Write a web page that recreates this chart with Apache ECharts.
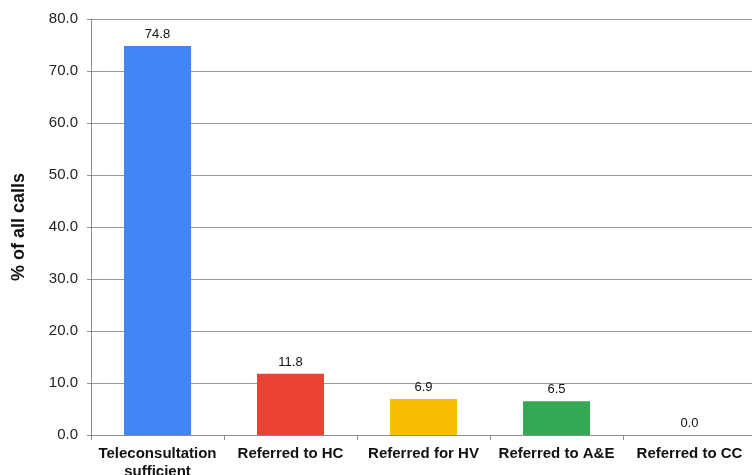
<!DOCTYPE html>
<html>
<head>
<meta charset="utf-8">
<script src="https://cdn.jsdelivr.net/npm/echarts@6/dist/echarts.min.js"></script>
<style>
  html, body { margin: 0; padding: 0; background: #fff; }
  #chart { width: 752px; height: 475px; }
</style>
</head>
<body>
<div id="chart"></div>
<script>
// Call outcomes and their share of all calls (%)
const categories = ['Teleconsultation\nsufficient', 'Referred to HC', 'Referred for HV', 'Referred to A&E', 'Referred to CC'];
const shares = [74.8, 11.8, 6.9, 6.5, 0.0];
const barColors = ['#4285F4', '#EA4335', '#FBBC04', '#34A853', '#8E8E8E'];
const yTicks = { min: 0, max: 80, interval: 10 };

const font = 'Liberation Sans, Arial, Helvetica, sans-serif';
const chart = echarts.init(document.getElementById('chart'));

chart.setOption({
  animation: false,
  grid: { left: 91, top: 19, width: 665, bottom: 40, containLabel: false, outerBoundsMode: 'none' },
  xAxis: {
    type: 'category',
    data: categories,
    axisLine: { lineStyle: { color: '#8c8c8c', width: 1 } },
    axisTick: { show: true, length: 5, lineStyle: { color: '#8c8c8c' } },
    axisLabel: {
      color: '#111', fontFamily: font, fontSize: 15, fontWeight: 'bold',
      margin: 10, lineHeight: 18, interval: 0
    }
  },
  yAxis: {
    type: 'value',
    min: yTicks.min, max: yTicks.max, interval: yTicks.interval,
    name: '% of all calls',
    nameLocation: 'middle',
    nameGap: 63,
    nameRotate: 90,
    nameTextStyle: { color: '#111', fontFamily: font, fontSize: 18, fontWeight: 'bold' },
    axisLine: { show: true, lineStyle: { color: '#8c8c8c', width: 1 } },
    axisTick: { show: true, length: 4, inside: false, lineStyle: { color: '#8c8c8c' } },
    splitLine: { show: true, lineStyle: { color: '#9a9a9a', width: 1 } },
    axisLabel: {
      color: '#222', fontFamily: font, fontSize: 15, margin: 13,
      formatter: v => v.toFixed(1)
    }
  },
  series: [{
    type: 'bar',
    barWidth: 67,
    data: shares.map((v, i) => ({ value: v, itemStyle: { color: barColors[i] } })),
    label: {
      show: true, position: 'top', distance: 5,
      color: '#111', fontFamily: font, fontSize: 13,
      formatter: p => p.value.toFixed(1)
    }
  }]
});
</script>
</body>
</html>
